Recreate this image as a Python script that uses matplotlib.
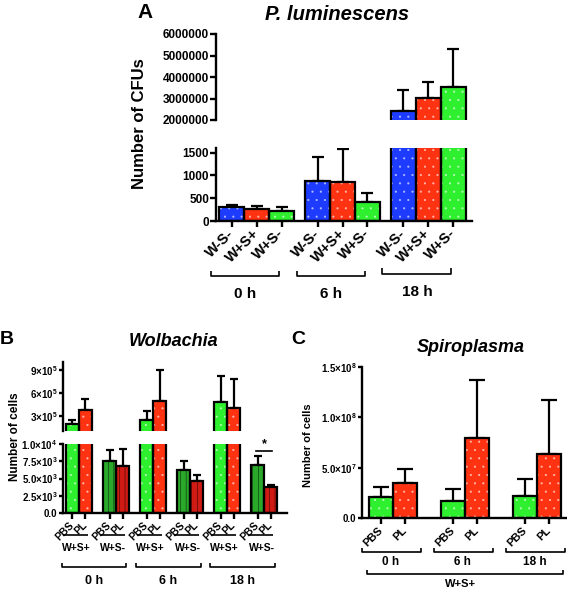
import matplotlib
matplotlib.use('Agg')
import matplotlib.pyplot as plt
import matplotlib.transforms as mtransforms
import numpy as np

plt.rcParams['font.family'] = ['Liberation Sans', 'DejaVu Sans']
plt.rcParams['font.weight'] = 'bold'
plt.rcParams['axes.linewidth'] = 1.6
plt.rcParams['hatch.linewidth'] = 0.3
plt.rcParams['mathtext.fontset'] = 'custom'
plt.rcParams['mathtext.rm'] = 'Liberation Sans:bold'
plt.rcParams['mathtext.bf'] = 'Liberation Sans:bold'
plt.rcParams['mathtext.it'] = 'Liberation Sans:bold:italic'

# ---- data ----
# panel A: P. luminescens CFUs, rows = time, cols = strain
a_times = ['0 h', '6 h', '18 h']
a_strains = ['W-S-', 'W+S+', 'W+S-']
a_mean = [[300, 270, 210],
          [880, 860, 410],
          [2.42e6, 3.02e6, 3.53e6]]
a_top = [[350, 320, 300],
         [1400, 1580, 620],
         [3.4e6, 3.77e6, 5.3e6]]

# panel B: Wolbachia cells, pairs in order (0h W+S+, 0h W+S-, 6h ..., 18h ...)
b_pairs = ['W+S+', 'W+S-', 'W+S+', 'W+S-', 'W+S+', 'W+S-']
b_times = ['0 h', '6 h', '18 h']
b_pbs_mean = [1.9e5, 7.6e3, 2.5e5, 6.2e3, 4.8e5, 7.0e3]
b_pbs_top = [2.45e5, 9.2e3, 3.6e5, 7.5e3, 8.2e5, 8.2e3]
b_pl_mean = [3.7e5, 6.8e3, 4.9e5, 4.6e3, 4.0e5, 3.8e3]
b_pl_top = [5.2e5, 9.3e3, 8.9e5, 5.5e3, 7.8e5, 4.1e3]

# panel C: Spiroplasma cells (W+S+)
c_times = ['0 h', '6 h', '18 h']
c_pbs_mean = [2.1e7, 1.7e7, 2.2e7]
c_pbs_top = [3.1e7, 2.9e7, 3.9e7]
c_pl_mean = [3.5e7, 7.9e7, 6.4e7]
c_pl_top = [4.9e7, 1.37e8, 1.17e8]

BLUE = '#1e3cff'
RED = '#ff3312'
GREEN = '#2ef02e'
DGREEN = '#2aa82a'
DRED = '#d01a14'
DOTS = '#ffffff99'

fig = plt.figure(figsize=(5.67, 5.90), dpi=100)


def fax(l, t, r, b):
    return fig.add_axes([l / 567, 1 - b / 590, (r - l) / 567, (b - t) / 590])


def fpos(x, y):
    return x / 567, 1 - y / 590


def style(ax, bottom=True, lw=1.7):
    for s in ['top', 'right']:
        ax.spines[s].set_visible(False)
    ax.spines['bottom'].set_visible(bottom)
    for s in ax.spines.values():
        s.set_linewidth(lw)
    ax.tick_params(direction='out', length=4, width=lw)
    if not bottom:
        ax.tick_params(axis='x', bottom=False, labelbottom=False)


def bars(ax, x, h, top, fc, hatch, hc, capsize, lw=1.6):
    h = np.asarray(h, float)
    err = np.asarray(top, float) - h
    ax.bar(x, h, 1.0, color=fc, edgecolor=hc, hatch=hatch, linewidth=0, zorder=2)
    ax.bar(x, h, 1.0, fill=False, edgecolor='k', linewidth=lw, zorder=3)
    ax.errorbar(x, h, yerr=[np.zeros_like(err), err], fmt='none', ecolor='k',
                elinewidth=lw, capsize=capsize, capthick=lw, zorder=1)


def bracket(ax, x0, x1, y, h, lw=1.2, color='k'):
    tr = mtransforms.blended_transform_factory(ax.transData, ax.transAxes)
    ax.plot([x0, x0, x1, x1], [y + h, y, y, y + h], transform=tr, clip_on=False,
            color=color, lw=lw, solid_capstyle='butt')


def label(ax, x, y, s, size):
    tr = mtransforms.blended_transform_factory(ax.transData, ax.transAxes)
    ax.text(x, y, s, transform=tr, ha='center', va='center', fontsize=size,
            fontweight='bold')


# ---------------- panel A ----------------
axAt = fax(216, 34, 472, 120)
axAb = fax(216, 148, 472, 221)
a_cols = [BLUE, RED, GREEN]
a_gap = 3.45
a_centers = np.arange(len(a_times)) * a_gap
for ax in (axAt, axAb):
    for k in range(3):
        xs = a_centers + k - 1
        bars(ax, xs, [m[k] for m in a_mean], [t[k] for t in a_top],
             a_cols[k], '..', DOTS, 4.5)
    ax.set_xlim(-1.64, a_centers[-1] + 1.76)

axAt.set_ylim(2e6, 6e6)
axAt.set_yticks([2e6, 3e6, 4e6, 5e6, 6e6])
axAt.set_yticklabels(['%d' % v for v in [2000000, 3000000, 4000000, 5000000, 6000000]])
style(axAt, bottom=False)
axAb.set_ylim(0, 1600)
axAb.set_yticks([0, 500, 1000, 1500])
style(axAb)
a_x = (a_centers[:, None] + np.array([-1, 0, 1])[None, :]).ravel()
axAb.set_xticks(a_x)
axAb.set_xticklabels(a_strains * 3, rotation=45, ha='right', va='center',
                     rotation_mode='anchor', fontsize=10.5)
for ax in (axAt, axAb):
    ax.tick_params(axis='y', labelsize=8.5, pad=1)
for lab in axAt.get_yticklabels() + axAb.get_yticklabels() + axAb.get_xticklabels():
    lab.set_fontweight('bold')
for i, t in enumerate(a_times):
    c = a_centers[i]
    yb = -0.72 if i == 2 else -0.75
    bracket(axAb, c - 1.85, c + 0.9, yb, 0.07)
    label(axAb, c - 0.45, yb - 0.25, t, 11)

fig.text(*fpos(140, 124), 'Number of CFUs', rotation=90, ha='center', va='center',
         fontsize=12, fontweight='bold')
fig.text(*fpos(145, 13), 'A', ha='center', va='center', fontsize=15, fontweight='bold')
fig.text(*fpos(337, 15), 'P. luminescens', ha='center', va='center', fontsize=14.5,
         fontweight='bold', style='italic')

# ---------------- panel B ----------------
axBt = fax(63, 362, 287, 431)
axBb = fax(63, 444, 287, 513)
b_gap = 2.85
b_centers = np.arange(len(b_pairs)) * b_gap
for ax in (axBt, axBb):
    for i, g in enumerate(b_pairs):
        c = b_centers[i]
        if g == 'W+S+':
            bars(ax, [c - 0.5], [b_pbs_mean[i]], [b_pbs_top[i]], GREEN, '..', DOTS, 3)
            bars(ax, [c + 0.5], [b_pl_mean[i]], [b_pl_top[i]], RED, '..', DOTS, 3)
        else:
            bars(ax, [c - 0.5], [b_pbs_mean[i]], [b_pbs_top[i]], DGREEN, '|||', 'k', 3)
            bars(ax, [c + 0.5], [b_pl_mean[i]], [b_pl_top[i]], DRED, '|||', 'k', 3)
    ax.set_xlim(-1.23, 16.0)

axBt.set_ylim(1e5, 1e6)
axBt.set_yticks([3e5, 6e5, 9e5])
axBt.set_yticklabels([r'$3{\times}10^{5}$', r'$6{\times}10^{5}$', r'$9{\times}10^{5}$'])
style(axBt, bottom=False)
axBb.set_ylim(0, 1e4)
axBb.set_yticks([0, 2.5e3, 5e3, 7.5e3, 1e4])
axBb.set_yticklabels(['0.0', r'$2.5{\times}10^{3}$', r'$5.0{\times}10^{3}$',
                      r'$7.5{\times}10^{3}$', r'$1.0{\times}10^{4}$'])
style(axBb)
b_x = np.ravel([[c - 0.5, c + 0.5] for c in b_centers])
axBb.set_xticks(b_x)
axBb.set_xticklabels(['PBS', 'PL'] * len(b_pairs), rotation=45, ha='right',
                     va='center', rotation_mode='anchor', fontsize=7.5)
for ax in (axBt, axBb):
    ax.tick_params(axis='y', labelsize=7, pad=1, length=3)
for lab in axBb.get_xticklabels() + axBb.get_yticklabels():
    lab.set_fontweight('bold')
for i, g in enumerate(b_pairs):
    c = b_centers[i]
    bracket(axBb, c - 1.25, c + 0.7, -0.32, 0, lw=1.2)
    label(axBb, c - 0.2, -0.51, g, 7.5)
for j, t in enumerate(b_times):
    c0, c1 = b_centers[2 * j], b_centers[2 * j + 1]
    bracket(axBb, c0 - 1.3, c1 + 0.8, -0.78, 0.06, lw=1.2)
    label(axBb, (c0 + c1) / 2 - 0.25, -0.99, t, 9)
# significance mark
c = b_centers[5]
axBb.plot([c - 0.6, c + 0.6], [9.0e3, 9.0e3], color='k', lw=1.2, zorder=4)
axBb.text(c, 9.1e3, '*', ha='center', va='bottom', fontsize=9, fontweight='bold')

fig.text(*fpos(15, 437), 'Number of cells', rotation=90, ha='center', va='center',
         fontsize=8.5, fontweight='bold')
fig.text(*fpos(7, 340), 'B', ha='center', va='center', fontsize=14, fontweight='bold')
fig.text(*fpos(174, 342), 'Wolbachia', ha='center', va='center', fontsize=13,
         fontweight='bold', style='italic')

# ---------------- panel C ----------------
axC = fax(362, 367, 566, 518)
c_centers = np.arange(len(c_times)) * 3.0
bars(axC, c_centers - 0.5, c_pbs_mean, c_pbs_top, GREEN, '..', DOTS, 6)
bars(axC, c_centers + 0.5, c_pl_mean, c_pl_top, RED, '..', DOTS, 6)
axC.set_xlim(-1.29, 7.2)
axC.set_ylim(0, 1.5e8)
axC.set_yticks([0, 5e7, 1e8, 1.5e8])
axC.set_yticklabels(['0.0', r'$5.0{\times}10^{7}$', r'$1.0{\times}10^{8}$',
                     r'$1.5{\times}10^{8}$'])
style(axC)
axC.tick_params(axis='y', labelsize=7, pad=1, length=3)
c_x = np.ravel([[c - 0.5, c + 0.5] for c in c_centers])
axC.set_xticks(c_x)
axC.set_xticklabels(['PBS', 'PL'] * len(c_times), rotation=45, ha='right',
                    va='center', rotation_mode='anchor', fontsize=8)
for lab in axC.get_xticklabels() + axC.get_yticklabels():
    lab.set_fontweight('bold')
for j, t in enumerate(c_times):
    c = c_centers[j]
    bracket(axC, c - 1.3, c + 1.15, -0.225, 0.026, lw=1.2)
    label(axC, c - 0.1, -0.29, t, 8.5)
bracket(axC, c_centers[0] - 1.1, c_centers[-1] + 1.08, -0.37, 0.026, lw=1.2)
label(axC, c_centers[1] - 0.2, -0.44, 'W+S+', 8)

fig.text(*fpos(308, 445), 'Number of cells', rotation=90, ha='center', va='center',
         fontsize=8, fontweight='bold')
fig.text(*fpos(298, 340), 'C', ha='center', va='center', fontsize=14, fontweight='bold')
fig.text(*fpos(471, 347), 'Spiroplasma', ha='center', va='center', fontsize=13,
         fontweight='bold', style='italic')

fig.savefig('out.png', dpi=100)
